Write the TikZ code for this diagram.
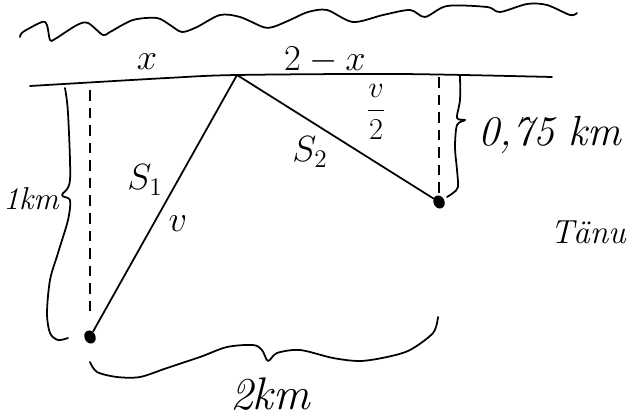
\documentclass[tikz,border=0pt]{standalone}
\usepackage{amsmath}
\usetikzlibrary{positioning,shapes.geometric}

\begin{document}
\begin{tikzpicture}[
  x=0.02cm, y=-0.02cm,
  pen/.style={line width=1pt, line cap=round, line join=round},
  dot/.style={ellipse, fill, inner sep=0pt, minimum width=2.2mm,
              minimum height=2.7mm, rotate=25},
  drop/.style={line width=0.9pt, dash pattern=on 6pt off 4pt},
  lbl/.style={font=\fontsize{20}{24}\selectfont, inner sep=0pt},
  hw/.style={font=\fontsize{24}{28}\selectfont\itshape, inner sep=0pt},
]
  \useasboundingbox (0,0) rectangle (628,419);

  % --- Sea (wavy line) ---
  \draw[pen] plot[smooth, tension=0.5] coordinates {
    (20,37) (23,32) (42,22) (47,25) (50,40) (55,39) (77,25) (88,23)
    (103,35) (110,32) (133,20) (157,18) (170,25) (182,32) (197,27)
    (220,15) (240,17) (263,27) (273,27) (290,20) (308,12) (327,10)
    (353,22) (383,15) (410,10) (425,17) (447,6) (487,7) (500,12)
    (527,4) (547,5) (570,15) (577,13)};

  % --- Shore ---
  \coordinate (L) at (30,86);
  \coordinate (P) at (237,75);
  \coordinate (R) at (552,77);
  \draw[pen] plot[smooth, tension=0.5] coordinates {
    (L) (167,78) (P) (400,74) (R)};
  \node[lbl] (lx)  at (147,62) {$x$};
  \node[lbl] (lx2) at (325,60) {$2-x$};

  % --- Points and paths ---
  \node[dot] (A) at (90,337) {};
  \node[dot] (B) at (439,202) {};
  \draw[pen] (A) -- (P) -- (B);
  \node[lbl] (s1) at (145,180) {$S_1$};
  \node[lbl] (v1) at (178,224) {$v$};
  \node[lbl] (s2) at (310,152) {$S_2$};
  \node[lbl, font=\fontsize{17}{20}\selectfont] (v2) at (376,112) {$\dfrac{v}{2}$};

  % --- Perpendiculars ---
  \coordinate (At) at (90,90);
  \coordinate (Ab) at (90,312);
  \coordinate (Bt) at (439,77);
  \coordinate (Bb) at (439,194);
  \draw[drop] (At) -- (Ab);
  \draw[drop] (Bt) -- (Bb);

  % --- Braces ---
  \draw[pen] plot[smooth, tension=0.5] coordinates {
    (65,88) (68,113) (70,180) (62,195) (70,200) (68,220) (58,253)
    (50,280) (47,313) (50,333) (58,340) (68,338)};
  \node[hw, font=\fontsize{18}{22}\selectfont\itshape, anchor=east]
    (d1) at (59,199) {1km};

  \draw[pen] plot[smooth, tension=0.5] coordinates {
    (460,75) (460,100) (457,118) (465,120) (457,125) (455,147)
    (457,170) (458,187) (453,193) (447,197)};
  \node[hw] (d2) at (550,135) {0,75 km};

  \draw[pen] plot[smooth, tension=0.5] coordinates {
    (90,362) (97,372) (117,377) (140,377) (167,368) (200,357) (227,347)
    (253,345) (262,350) (268,361) (277,353) (300,350) (333,358)
    (360,361) (387,357) (410,350) (433,333) (438,317)};
  \node[hw, font=\fontsize{26}{30}\selectfont\itshape] (d3) at (270,394) {2km};

  \node[hw, font=\fontsize{19}{23}\selectfont\itshape, anchor=west]
    (note) at (550,232) {Tänu};
\end{tikzpicture}
\end{document}
